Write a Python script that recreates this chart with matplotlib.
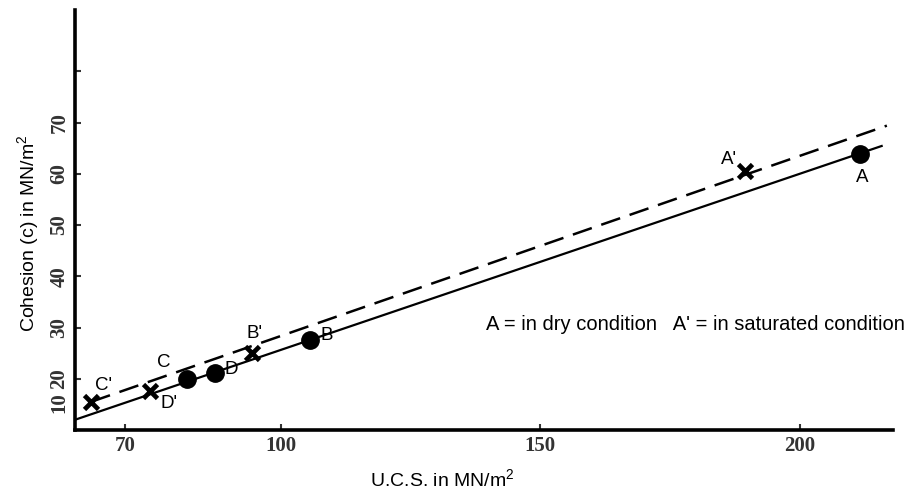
import matplotlib
matplotlib.use("Agg")
import matplotlib.pyplot as plt
from matplotlib.transforms import ScaledTranslation

plt.rcParams['font.family'] = ['Liberation Sans', 'DejaVu Sans']
plt.rcParams['mathtext.fontset'] = 'custom'
plt.rcParams['mathtext.rm'] = 'Liberation Sans'
plt.rcParams['mathtext.it'] = 'Liberation Sans:italic'

# ---- data ----
dry_labels = ['A', 'B', 'C', 'D']
dry_ucs = [211.6, 105.6, 81.9, 87.3]
dry_c = [63.9, 27.6, 20.0, 21.2]

sat_labels = ["A'", "B'", "C'", "D'"]
sat_ucs = [189.4, 94.4, 63.4, 74.8]
sat_c = [60.6, 25.1, 15.5, 17.6]

dry_line_ucs = [60.3, 216.0]
dry_line_c = [12.0, 65.5]
sat_line_ucs = [63.4, 216.8]
sat_line_c = [15.5, 69.4]

x_ticks = [70, 100, 150, 200]
y_ticks = [10, 20, 30, 40, 50, 60, 70, 80]
y_tick_labels = ['10', '20', '30', '40', '50', '60', '70', '']

# label offsets in points
dry_offsets = [(1.5, -17), (12, 3), (-17, 12), (12, 2.5)]
sat_offsets = [(-11, 8), (2, 14), (9, 11.5), (13.5, -9)]

fig = plt.figure(figsize=(9.08, 4.92), dpi=100)
ax = fig.add_axes([0.0826, 0.126, 0.9004, 0.854])

ax.plot(dry_line_ucs, dry_line_c, color='black', lw=1.6, solid_capstyle='butt')
ax.plot(sat_line_ucs, sat_line_c, color='black', lw=1.8, dashes=(8, 4))

ax.plot(dry_ucs, dry_c, 'o', color='black', markersize=12.5, zorder=5)
ax.plot(sat_ucs, sat_c, 'x', color='black', markersize=10.5, mew=3.4, zorder=5)

for lab, xv, yv, off in zip(dry_labels, dry_ucs, dry_c, dry_offsets):
    ax.annotate(lab, (xv, yv), xytext=off, textcoords='offset points',
                ha='center', va='center', fontsize=13.5)
for lab, xv, yv, off in zip(sat_labels, sat_ucs, sat_c, sat_offsets):
    ax.annotate(lab, (xv, yv), xytext=off, textcoords='offset points',
                ha='center', va='center', fontsize=13.5)

fig.text(0.9967, 1 - 325 / 492, "A = in dry condition   A' = in saturated condition",
         ha='right', va='center', fontsize=14.5)

ax.set_xlim(60.3, 217.9)
ax.set_ylim(10, 92)

ax.set_xticks(x_ticks)
ax.set_xticklabels([str(v) for v in x_ticks], family='Liberation Serif',
                   fontweight='bold', fontsize=15, color='#333333')
ax.set_yticks(y_ticks)
ax.set_yticklabels(y_tick_labels, family='Liberation Serif', fontweight='bold',
                   fontsize=15, color='#333333', rotation=90, va='center')
ax.tick_params(axis='both', direction='in', length=4, width=1.5, color='#333333')
ax.tick_params(axis='x', pad=4)
ax.tick_params(axis='y', pad=4)

# the lowest y label sits a little above the corner in the reference
lbl0 = ax.get_yticklabels()[0]
lbl0.set_transform(lbl0.get_transform() + ScaledTranslation(0, 20 / 72, fig.dpi_scale_trans))

for s in ['top', 'right']:
    ax.spines[s].set_visible(False)
for s in ['left', 'bottom']:
    ax.spines[s].set_linewidth(2.6)
    ax.spines[s].set_color('black')

ax.set_xlabel(r'U.C.S. in MN/m$^{2}$', fontsize=14)
ax.set_ylabel(r'Cohesion (c) in MN/m$^{2}$', fontsize=14)
ax.xaxis.label.set_va('center')
ax.yaxis.label.set_va('center')
ax.xaxis.set_label_coords(0.449, -0.117)
ax.yaxis.set_label_coords(-0.058, 0.469)

fig.savefig('out.png', dpi=100, facecolor='white')
